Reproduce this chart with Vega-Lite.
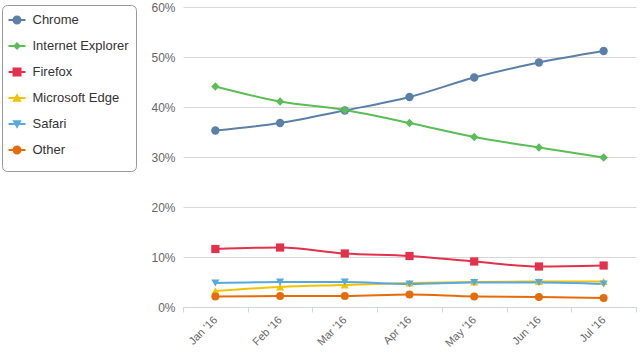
{
  "$schema": "https://vega.github.io/schema/vega-lite/v6.json",
  "width": 453,
  "height": 300,
  "autosize": {"type": "none"},
  "padding": {"left": 183, "top": 7, "right": 4, "bottom": 45},
  "background": "white",
  "config": {
    "view": {"stroke": null},
    "font": "Liberation Sans"
  },
  "data": {
    "values": [
      {"Month": "Jan '16", "Browser": "Chrome", "Share": 35.3},
      {"Month": "Feb '16", "Browser": "Chrome", "Share": 36.8},
      {"Month": "Mar '16", "Browser": "Chrome", "Share": 39.3},
      {"Month": "Apr '16", "Browser": "Chrome", "Share": 42.0},
      {"Month": "May '16", "Browser": "Chrome", "Share": 45.9},
      {"Month": "Jun '16", "Browser": "Chrome", "Share": 48.9},
      {"Month": "Jul '16", "Browser": "Chrome", "Share": 51.2},
      {"Month": "Jan '16", "Browser": "Internet Explorer", "Share": 44.1},
      {"Month": "Feb '16", "Browser": "Internet Explorer", "Share": 41.1},
      {"Month": "Mar '16", "Browser": "Internet Explorer", "Share": 39.4},
      {"Month": "Apr '16", "Browser": "Internet Explorer", "Share": 36.8},
      {"Month": "May '16", "Browser": "Internet Explorer", "Share": 34.0},
      {"Month": "Jun '16", "Browser": "Internet Explorer", "Share": 31.9},
      {"Month": "Jul '16", "Browser": "Internet Explorer", "Share": 29.9},
      {"Month": "Jan '16", "Browser": "Firefox", "Share": 11.6},
      {"Month": "Feb '16", "Browser": "Firefox", "Share": 11.9},
      {"Month": "Mar '16", "Browser": "Firefox", "Share": 10.7},
      {"Month": "Apr '16", "Browser": "Firefox", "Share": 10.2},
      {"Month": "May '16", "Browser": "Firefox", "Share": 9.1},
      {"Month": "Jun '16", "Browser": "Firefox", "Share": 8.1},
      {"Month": "Jul '16", "Browser": "Firefox", "Share": 8.3},
      {"Month": "Jan '16", "Browser": "Microsoft Edge", "Share": 3.2},
      {"Month": "Feb '16", "Browser": "Microsoft Edge", "Share": 4.0},
      {"Month": "Mar '16", "Browser": "Microsoft Edge", "Share": 4.4},
      {"Month": "Apr '16", "Browser": "Microsoft Edge", "Share": 4.8},
      {"Month": "May '16", "Browser": "Microsoft Edge", "Share": 5.0},
      {"Month": "Jun '16", "Browser": "Microsoft Edge", "Share": 5.1},
      {"Month": "Jul '16", "Browser": "Microsoft Edge", "Share": 5.1},
      {"Month": "Jan '16", "Browser": "Safari", "Share": 4.8},
      {"Month": "Feb '16", "Browser": "Safari", "Share": 5.0},
      {"Month": "Mar '16", "Browser": "Safari", "Share": 5.0},
      {"Month": "Apr '16", "Browser": "Safari", "Share": 4.6},
      {"Month": "May '16", "Browser": "Safari", "Share": 4.9},
      {"Month": "Jun '16", "Browser": "Safari", "Share": 4.9},
      {"Month": "Jul '16", "Browser": "Safari", "Share": 4.6},
      {"Month": "Jan '16", "Browser": "Other", "Share": 2.1},
      {"Month": "Feb '16", "Browser": "Other", "Share": 2.2},
      {"Month": "Mar '16", "Browser": "Other", "Share": 2.2},
      {"Month": "Apr '16", "Browser": "Other", "Share": 2.5},
      {"Month": "May '16", "Browser": "Other", "Share": 2.1},
      {"Month": "Jun '16", "Browser": "Other", "Share": 2.0},
      {"Month": "Jul '16", "Browser": "Other", "Share": 1.8}
    ]
  },
  "encoding": {
    "x": {
      "field": "Month",
      "type": "ordinal",
      "sort": null,
      "scale": {"type": "band", "paddingInner": 0, "paddingOuter": 0},
      "axis": {
        "title": null,
        "tickBand": "extent",
        "domainColor": "#ccd6eb",
        "tickColor": "#ccd6eb",
        "tickSize": 5,
        "grid": false,
        "labelAngle": -45,
        "labelAlign": "right",
        "labelBaseline": "middle",
        "labelFontSize": 11,
        "labelColor": "#666666",
        "labelPadding": 6
      }
    },
    "y": {
      "field": "Share",
      "type": "quantitative",
      "scale": {"domain": [0, 60], "nice": false},
      "axis": {
        "title": null,
        "values": [0, 10, 20, 30, 40, 50, 60],
        "labelExpr": "datum.value + '%'",
        "domain": false,
        "ticks": false,
        "gridColor": "#d8d8d8",
        "labelFontSize": 12,
        "labelColor": "#666666",
        "labelPadding": 8
      }
    },
    "color": {
      "field": "Browser",
      "type": "nominal",
      "scale": {
        "domain": ["Chrome", "Internet Explorer", "Firefox", "Microsoft Edge", "Safari", "Other"],
        "range": ["#5a7fa8", "#5abd55", "#e2314a", "#f2c100", "#58a9db", "#e46c0a"]
      },
      "legend": {
        "title": " ",
        "titleOrient": "bottom",
        "titleFontSize": 4,
        "titlePadding": 3,
        "orient": "none",
        "legendX": -181,
        "legendY": -2,
        "padding": 6.5,
        "rowPadding": 10,
        "strokeColor": "#999999",
        "cornerRadius": 5,
        "fillColor": "white",
        "symbolType": "circle",
        "symbolSize": 289,
        "symbolStrokeWidth": 0,
        "symbolOpacity": 1,
        "labelFontSize": 13,
        "labelColor": "#333333",
        "labelOffset": 7,
        "labelLimit": 200,
        "encode": {
          "symbols": {
            "update": {
              "fill": {"scale": "color", "field": "value"},
              "size": {"value": 289},
              "strokeWidth": {"value": 0},
              "shape": {"signal": "['M-1,-0.12H1V0.12H-1Z M0.53,0A0.53,0.53 0 1,1 -0.53,0A0.53,0.53 0 1,1 0.53,0Z', 'M-1,-0.12H1V0.12H-1Z M0,-0.47L0.47,0L0,0.47L-0.47,0Z', 'M-1,-0.12H1V0.12H-1Z M-0.53,-0.53H0.53V0.53H-0.53Z', 'M-1,-0.12H1V0.12H-1Z M0,-0.55L0.55,0.45L-0.55,0.45Z', 'M-1,-0.12H1V0.12H-1Z M-0.55,-0.45L0.55,-0.45L0,0.55Z', 'M-1,-0.12H1V0.12H-1Z M0.53,0A0.53,0.53 0 1,1 -0.53,0A0.53,0.53 0 1,1 0.53,0Z'][datum.index]"}
            }
          }
        }
      }
    }
  },
  "layer": [
    {
      "mark": {"type": "line", "strokeWidth": 2, "interpolate": "monotone"},
      "encoding": {"detail": {"field": "Browser", "type": "nominal"}}
    },
    {
      "mark": {"type": "point", "filled": true, "opacity": 1},
      "encoding": {
        "size": {
          "field": "Browser",
          "type": "nominal",
          "scale": {
            "domain": ["Other", "Safari", "Microsoft Edge", "Firefox", "Internet Explorer", "Chrome"],
            "range": [64, 70, 70, 72, 40, 64]
          },
          "legend": null
        },
        "shape": {
          "field": "Browser",
          "type": "nominal",
          "scale": {
            "domain": ["Safari", "Other", "Firefox", "Microsoft Edge", "Chrome", "Internet Explorer"],
            "range": ["triangle-down", "circle", "square", "triangle-up", "circle", "diamond"]
          },
          "legend": null
        }
      }
    }
  ]
}
